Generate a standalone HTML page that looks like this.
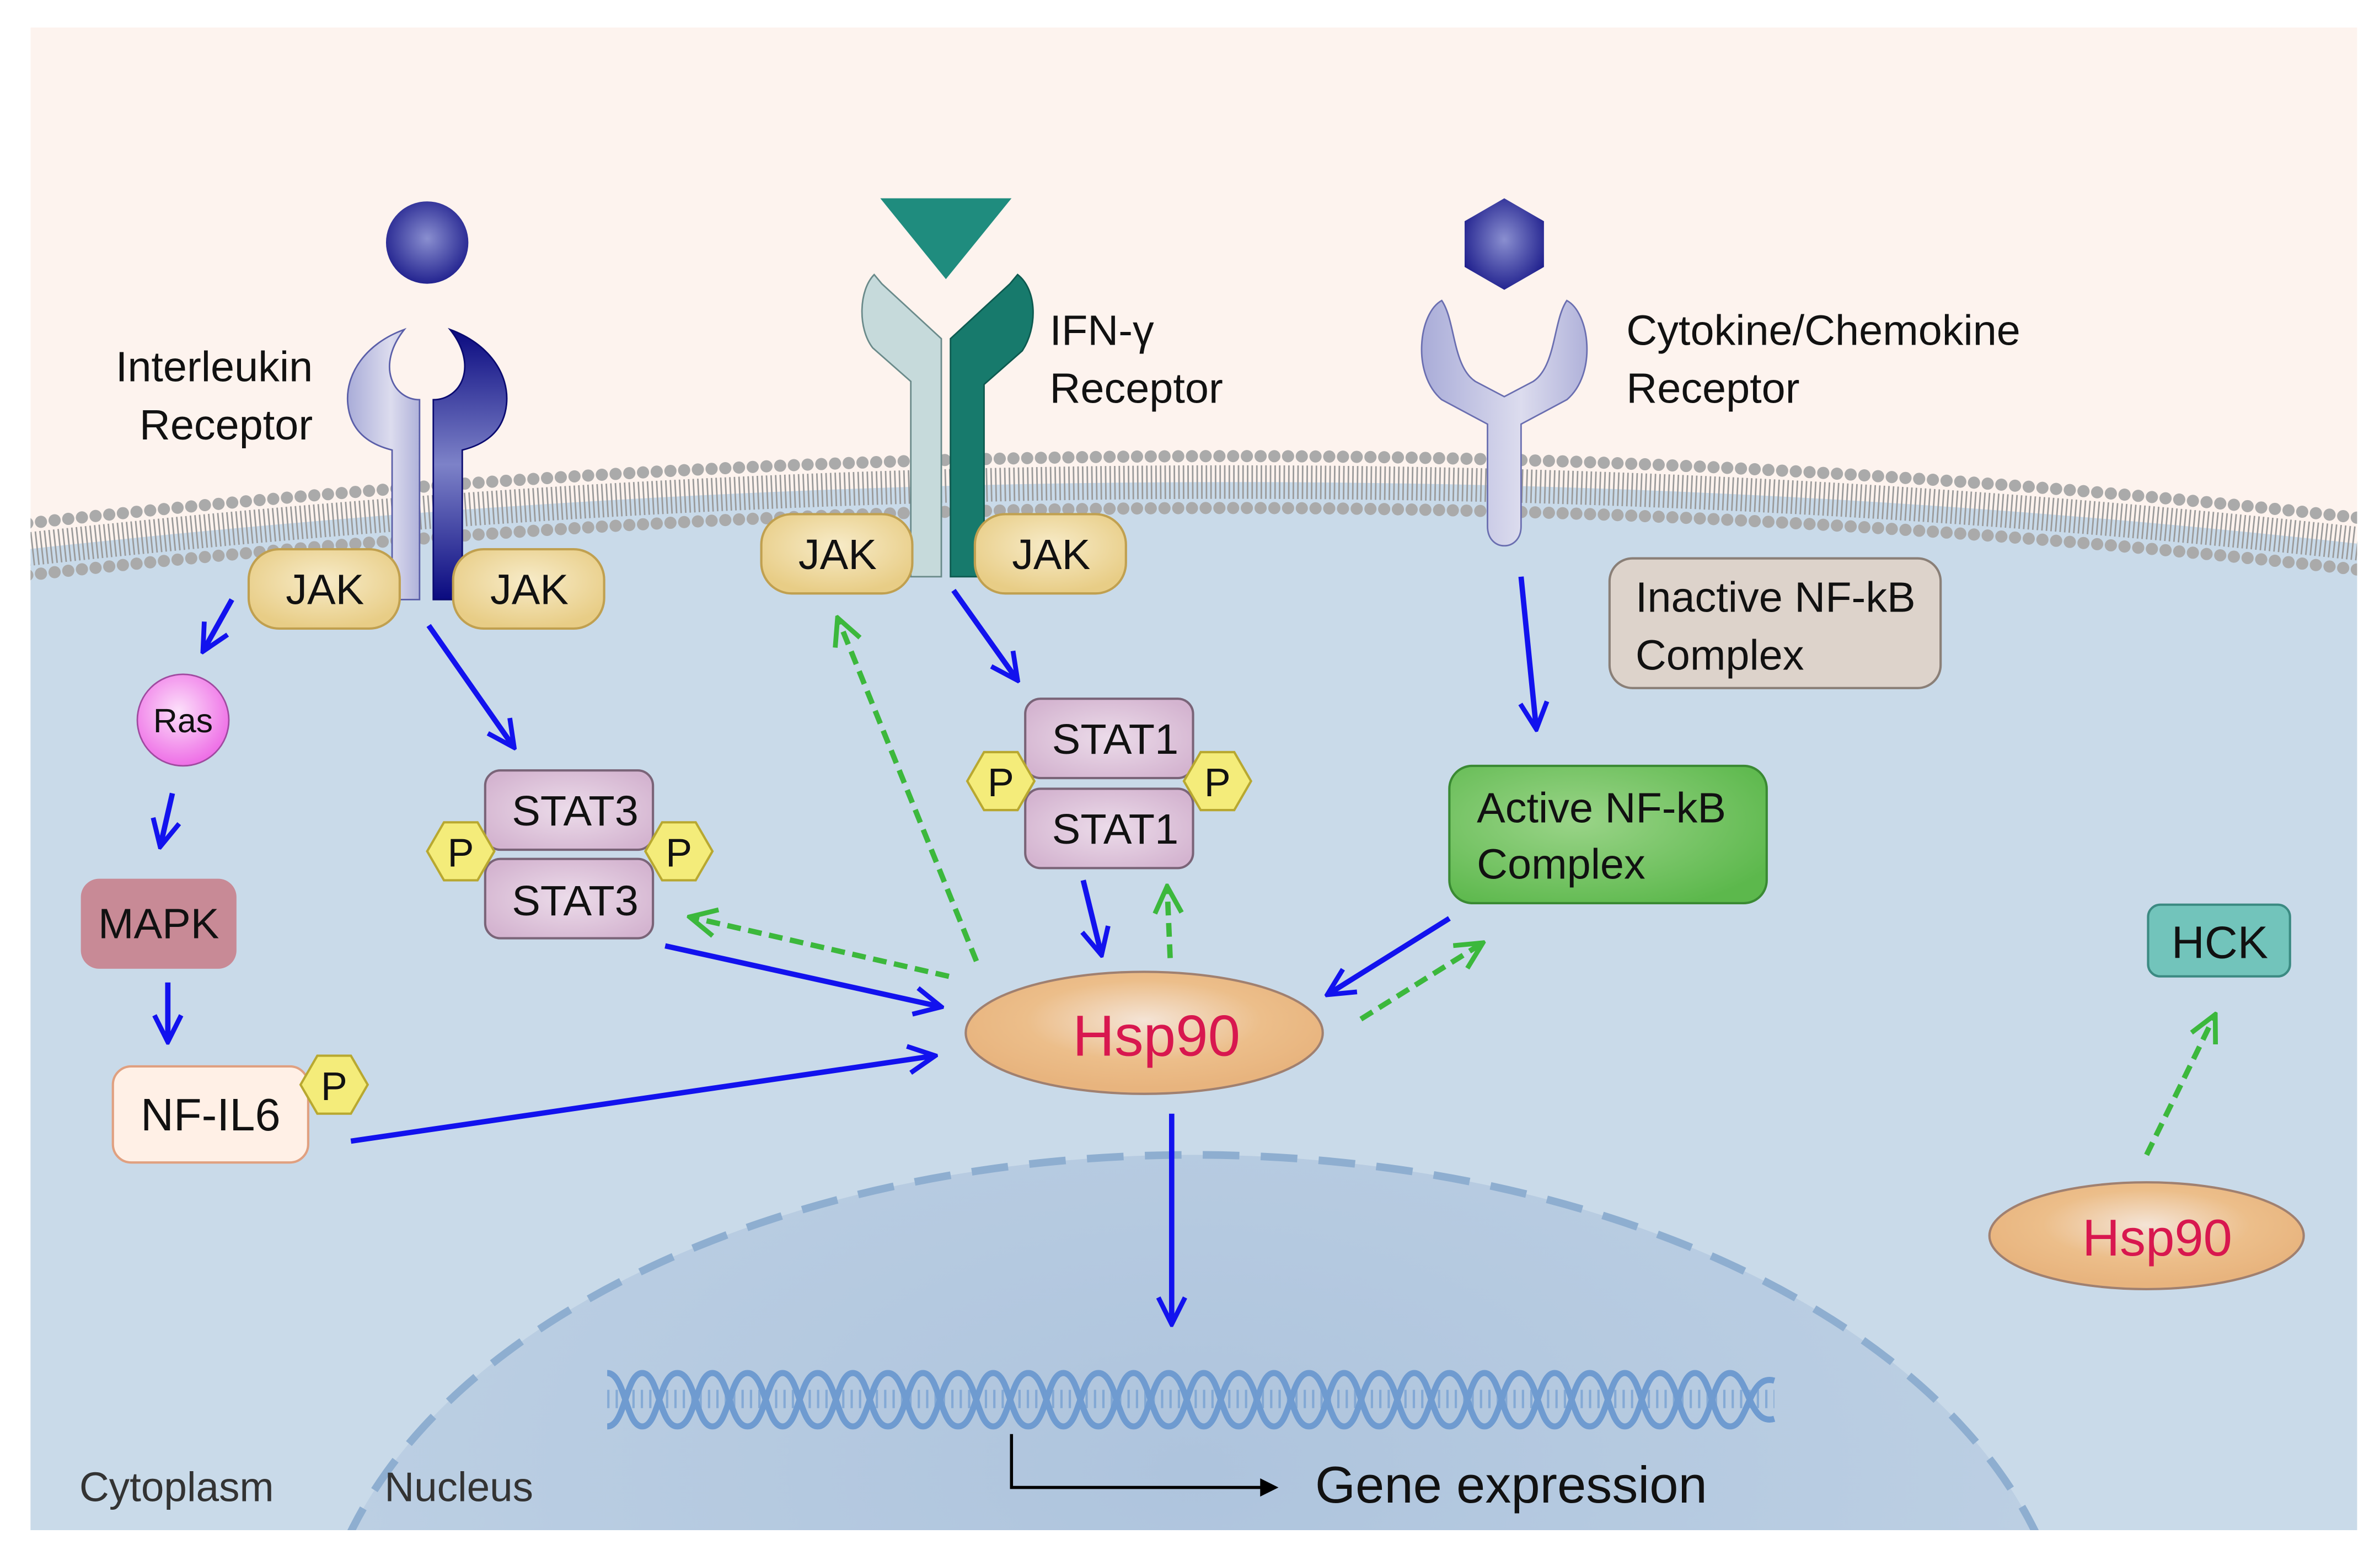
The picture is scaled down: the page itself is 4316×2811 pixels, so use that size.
<!DOCTYPE html>
<html><head><meta charset="utf-8"><style>html,body{margin:0;padding:0;background:#fff;width:4316px;height:2811px;overflow:hidden}svg{display:block}text{font-family:"Liberation Sans",sans-serif}</style></head>
<body>
<svg width="4316" height="2811" viewBox="0 0 1560 1016" preserveAspectRatio="none" xmlns="http://www.w3.org/2000/svg">
<defs>
<clipPath id="panel"><rect x="20" y="18" width="1525" height="985"/></clipPath>
<radialGradient id="navy" cx="0.5" cy="0.45" r="0.6"><stop offset="0" stop-color="#8a8fd0"/><stop offset="1" stop-color="#1a1a8a"/></radialGradient>
<linearGradient id="dark" x1="0" y1="0" x2="0" y2="1"><stop offset="0" stop-color="#0a0a80"/><stop offset="0.5" stop-color="#7d82c8"/><stop offset="1" stop-color="#0a0a80"/></linearGradient>
<linearGradient id="lav" x1="0" y1="0" x2="1" y2="0"><stop offset="0" stop-color="#a9acd8"/><stop offset="0.6" stop-color="#dcdcee"/><stop offset="1" stop-color="#b0b2da"/></linearGradient>
<radialGradient id="jak" cx="0.5" cy="0.4" r="0.6"><stop offset="0" stop-color="#f7ebc8"/><stop offset="1" stop-color="#e8cd86"/></radialGradient>
<radialGradient id="stat" cx="0.5" cy="0.5" r="0.6"><stop offset="0" stop-color="#ecdcea"/><stop offset="1" stop-color="#d4b4d0"/></radialGradient>
<radialGradient id="hsp" cx="0.5" cy="0.4" r="0.55"><stop offset="0" stop-color="#f4e4d6"/><stop offset="0.6" stop-color="#ecbe8a"/><stop offset="1" stop-color="#e8b47e"/></radialGradient>
<radialGradient id="ras" cx="0.45" cy="0.4" r="0.6"><stop offset="0" stop-color="#fce0fa"/><stop offset="1" stop-color="#ee6ee6"/></radialGradient>
<radialGradient id="grn" cx="0.4" cy="0.4" r="0.7"><stop offset="0" stop-color="#9ad488"/><stop offset="1" stop-color="#5cb84c"/></radialGradient>
<radialGradient id="nuc" cx="0.5" cy="0.3" r="0.7"><stop offset="0" stop-color="#aec4dd"/><stop offset="1" stop-color="#c2d4e6"/></radialGradient>
<marker id="ab" viewBox="0 0 12 12" refX="11" refY="6" markerWidth="6" markerHeight="6" orient="auto"><path d="M1,1 L11,6 L1,11" fill="none" stroke="#1212ee" stroke-width="1.8"/></marker>
<marker id="ag" viewBox="0 0 12 12" refX="11" refY="6" markerWidth="6" markerHeight="6" orient="auto"><path d="M1,1 L11,6 L1,11" fill="none" stroke="#3cb83c" stroke-width="1.8"/></marker>
</defs>
<g clip-path="url(#panel)">
<rect x="20" y="18" width="1525" height="985" fill="#fdf3ee"/>
<path d="M0,362 Q800,272 1560,358 L1560,1016 L0,1016 Z" fill="#c9dae9"/>
<ellipse cx="782" cy="1100" rx="575" ry="343" fill="url(#nuc)" stroke="#8eaed0" stroke-width="5" stroke-dasharray="24 14"/>
<path d="M0,362 Q800,272 1560,358" fill="none" stroke="#9a9a9a" stroke-width="22" stroke-dasharray="1 2"/>
<path d="M0,345 Q800,255 1560,341" fill="none" stroke="#aaa" stroke-width="8" stroke-linecap="round" stroke-dasharray="0 9"/>
<path d="M0,379 Q800,289 1560,375" fill="none" stroke="#aaa" stroke-width="8" stroke-linecap="round" stroke-dasharray="0 9"/>
</g>
<g fill="none" stroke="#6f9bd0" stroke-width="4">
<path d="M398,900 C410,900 410,935 421,935 C432,935 432,900 444,900 C456,900 456,935 467,935 C478,935 478,900 490,900 C502,900 502,935 513,935 C524,935 524,900 536,900 C548,900 548,935 559,935 C570,935 570,900 582,900 C594,900 594,935 605,935 C616,935 616,900 628,900 C640,900 640,935 651,935 C662,935 662,900 674,900 C686,900 686,935 697,935 C708,935 708,900 720,900 C732,900 732,935 743,935 C754,935 754,900 766,900 C778,900 778,935 789,935 C800,935 800,900 812,900 C824,900 824,935 835,935 C846,935 846,900 858,900 C870,900 870,935 881,935 C892,935 892,900 904,900 C916,900 916,935 927,935 C938,935 938,900 950,900 C962,900 962,935 973,935 C984,935 984,900 996,900 C1008,900 1008,935 1019,935 C1030,935 1030,900 1042,900 C1054,900 1054,935 1065,935 C1076,935 1076,900 1088,900 C1100,900 1100,935 1111,935 C1122,935 1122,900 1134,900 C1146,900 1146,935 1163,930"/>
<path d="M398,935 C410,935 410,900 421,900 C432,900 432,935 444,935 C456,935 456,900 467,900 C478,900 478,935 490,935 C502,935 502,900 513,900 C524,900 524,935 536,935 C548,935 548,900 559,900 C570,900 570,935 582,935 C594,935 594,900 605,900 C616,900 616,935 628,935 C640,935 640,900 651,900 C662,900 662,935 674,935 C686,935 686,900 697,900 C708,900 708,935 720,935 C732,935 732,900 743,900 C754,900 754,935 766,935 C778,935 778,900 789,900 C800,900 800,935 812,935 C824,935 824,900 835,900 C846,900 846,935 858,935 C870,935 870,900 881,900 C892,900 892,935 904,935 C916,935 916,900 927,900 C938,900 938,935 950,935 C962,935 962,900 973,900 C984,900 984,935 996,935 C1008,935 1008,900 1019,900 C1030,900 1030,935 1042,935 C1054,935 1054,900 1065,900 C1076,900 1076,935 1088,935 C1100,935 1100,900 1111,900 C1122,900 1122,935 1134,935 C1146,935 1146,900 1163,905"/>
<path d="M398,917 H1163" stroke-width="12" stroke-dasharray="1.5 4" opacity="0.7"/>
</g>
<path d="M663,940 V975 H832" fill="none" stroke="#000" stroke-width="2"/>
<path d="M826,969 L838,975 L826,981 Z" fill="#000"/>
<text x="862" y="985" font-size="34" fill="#111">Gene expression</text>
<text x="52" y="984" font-size="27" fill="#333">Cytoplasm</text>
<text x="252" y="984" font-size="27" fill="#333">Nucleus</text>

<circle cx="280" cy="159" r="27" fill="url(#navy)"/>
<path d="M265,216 C240,225 226,245 228,265 C230,285 245,292 257,295 L257,393 L275,393 L275,262 C258,262 246,240 265,216 Z" fill="url(#lav)" stroke="#5a5ea8" stroke-width="1"/>
<path d="M295,216 C320,225 334,245 332,265 C330,285 315,292 303,295 L303,393 L284,393 L284,262 C302,262 314,240 295,216 Z" fill="url(#dark)" stroke="#0a0a70" stroke-width="1"/>
<text x="205" y="250" font-size="28" text-anchor="end" fill="#111">Interleukin</text>
<text x="205" y="288" font-size="28" text-anchor="end" fill="#111">Receptor</text>

<path d="M577,130 L663,130 L620,183 Z" fill="#1f8c7e"/>
<path d="M573,180 C563,190 562,215 572,228 L597,250 L597,378 L617,378 L617,222 L578,186 Z" fill="#c6dadb" stroke="#6a8a8a" stroke-width="1"/>
<path d="M667,180 C680,190 680,215 670,230 L645,252 L645,378 L623,378 L623,222 L662,186 Z" fill="#177a6c" stroke="#0d5a50" stroke-width="1"/>
<text x="688" y="226" font-size="28" fill="#111">IFN-γ</text>
<text x="688" y="264" font-size="28" fill="#111">Receptor</text>

<path d="M986,130 L1012,145 L1012,175 L986,190 L960,175 L960,145 Z" fill="url(#navy)"/>
<path d="M945,197 C930,205 925,245 945,262 L975,278 L975,345 C975,362 997,362 997,345 L997,278 L1027,262 C1047,245 1042,205 1027,197 C1018,210 1020,240 1005,250 L986,260 L967,250 C952,240 954,210 945,197 Z" fill="url(#lav)" stroke="#6a6eb0" stroke-width="1"/>
<text x="1066" y="226" font-size="28" fill="#111">Cytokine/Chemokine</text>
<text x="1066" y="264" font-size="28" fill="#111">Receptor</text>

<g stroke="#c0a050" stroke-width="1.5" fill="url(#jak)">
<rect x="163" y="360" width="99" height="52" rx="20"/>
<rect x="297" y="360" width="99" height="52" rx="20"/>
<rect x="499" y="337" width="99" height="52" rx="20"/>
<rect x="639" y="337" width="99" height="52" rx="20"/>
</g>
<g font-size="28" text-anchor="middle" fill="#111">
<text x="213" y="396">JAK</text><text x="347" y="396">JAK</text>
<text x="549" y="373">JAK</text><text x="689" y="373">JAK</text>
</g>

<rect x="1055" y="366" width="217" height="85" rx="15" fill="#ddd3cb" stroke="#8a7f77" stroke-width="1.5"/>
<text x="1072" y="401" font-size="28" fill="#111">Inactive NF-kB</text>
<text x="1072" y="439" font-size="28" fill="#111">Complex</text>
<rect x="950" y="502" width="208" height="90" rx="15" fill="url(#grn)" stroke="#3a8a33" stroke-width="1.5"/>
<text x="968" y="539" font-size="28" fill="#111">Active NF-kB</text>
<text x="968" y="576" font-size="28" fill="#111">Complex</text>

<circle cx="120" cy="472" r="30" fill="url(#ras)" stroke="#a04aa0" stroke-width="1"/>
<text x="120" y="480" font-size="22" text-anchor="middle" fill="#111">Ras</text>
<rect x="53" y="576" width="102" height="59" rx="12" fill="#c88a96"/>
<text x="104" y="615" font-size="28" text-anchor="middle" fill="#111">MAPK</text>
<rect x="74" y="699" width="128" height="63" rx="12" fill="#fff0e6" stroke="#e0a080" stroke-width="1.5"/>
<text x="138" y="741" font-size="30" text-anchor="middle" fill="#111">NF-IL6</text>

<g fill="url(#stat)" stroke="#7a6478" stroke-width="1.5">
<rect x="318" y="505" width="110" height="52" rx="10"/>
<rect x="318" y="563" width="110" height="52" rx="10"/>
<rect x="672" y="458" width="110" height="52" rx="10"/>
<rect x="672" y="517" width="110" height="52" rx="10"/>
</g>
<g font-size="28" text-anchor="middle" fill="#111">
<text x="377" y="541">STAT3</text><text x="377" y="600">STAT3</text>
<text x="731" y="494">STAT1</text><text x="731" y="553">STAT1</text>
</g>
<g fill="#f4ec7a" stroke="#b8a830" stroke-width="1.5">
<path d="M197,711 L208,692 L230,692 L241,711 L230,730 L208,730 Z"/>
<path d="M280,558 L291,539 L313,539 L324,558 L313,577 L291,577 Z"/>
<path d="M423,558 L434,539 L456,539 L467,558 L456,577 L434,577 Z"/>
<path d="M634,512 L645,493 L667,493 L678,512 L667,531 L645,531 Z"/>
<path d="M776,512 L787,493 L809,493 L820,512 L809,531 L787,531 Z"/>
</g>
<g font-size="26" text-anchor="middle" fill="#111">
<text x="219" y="721">P</text><text x="302" y="568">P</text><text x="445" y="568">P</text>
<text x="656" y="522">P</text><text x="798" y="522">P</text>
</g>

<ellipse cx="750" cy="677" rx="117" ry="40" fill="url(#hsp)" stroke="#a08070" stroke-width="1.5"/>
<text x="758" y="692" font-size="38" text-anchor="middle" fill="#d8174f">Hsp90</text>
<ellipse cx="1407" cy="810" rx="103" ry="35" fill="url(#hsp)" stroke="#a08070" stroke-width="1.5"/>
<text x="1414" y="823" font-size="34" text-anchor="middle" fill="#d8174f">Hsp90</text>
<rect x="1408" y="593" width="93" height="47" rx="8" fill="#72c4bb" stroke="#3b8a82" stroke-width="1.5"/>
<text x="1455" y="628" font-size="30" text-anchor="middle" fill="#111">HCK</text>

<g stroke="#1212ee" stroke-width="3.5" fill="none" marker-end="url(#ab)">
<line x1="152" y1="393" x2="133" y2="427"/>
<line x1="281" y1="410" x2="337" y2="490"/>
<line x1="113" y1="520" x2="105" y2="555"/>
<line x1="110" y1="644" x2="110" y2="683"/>
<line x1="436" y1="620" x2="617" y2="660"/>
<line x1="230" y1="748" x2="613" y2="692"/>
<line x1="625" y1="387" x2="667" y2="446"/>
<line x1="710" y1="577" x2="722" y2="626"/>
<line x1="997" y1="378" x2="1007" y2="478"/>
<line x1="950" y1="602" x2="870" y2="652"/>
<line x1="768" y1="730" x2="768" y2="868"/>
</g>
<g stroke="#3cb83c" stroke-width="3.5" fill="none" stroke-dasharray="9 5" marker-end="url(#ag)">
<line x1="640" y1="630" x2="549" y2="405"/>
<line x1="622" y1="640" x2="452" y2="601"/>
<line x1="767" y1="628" x2="765" y2="581"/>
<line x1="892" y1="668" x2="972" y2="618"/>
<line x1="1407" y1="757" x2="1452" y2="665"/>
</g>
</svg>
</body></html>
